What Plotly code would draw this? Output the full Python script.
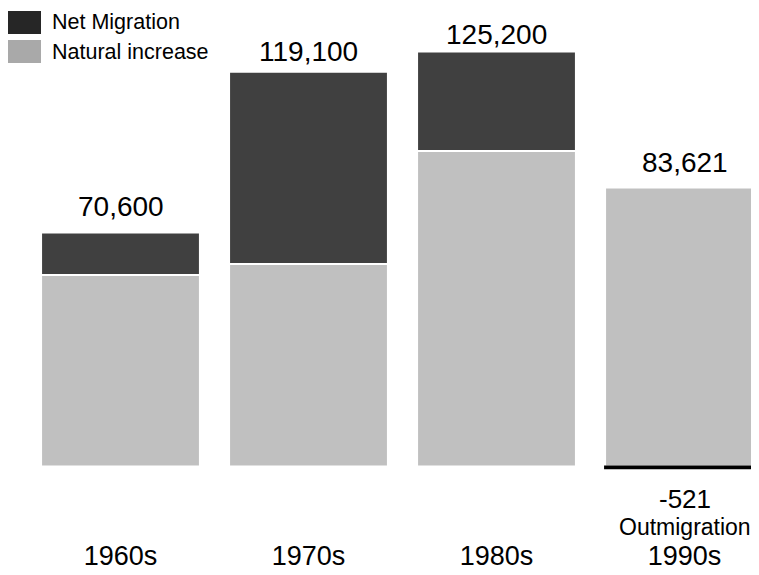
import plotly.graph_objects as go

# ---- data ----
decades = ["1960s", "1970s", "1980s", "1990s"]
natural_increase = [57800, 61100, 95200, 84142]
net_migration = [12800, 58000, 30000, -521]
totals = [a + b for a, b in zip(natural_increase, net_migration)]

# ---- styling ----
FONT = "Arial, Liberation Sans, sans-serif"
OFF = 8  # page body margin offset
W, H = 759, 575 - OFF
PLOT_BOTTOM = 480 - OFF  # px of plot area bottom (figure coords)
DARK = "#404040"
LIGHT = "#c0c0c0"

x_idx = list(range(len(decades)))

fig = go.Figure()
fig.add_trace(go.Bar(
    x=x_idx, y=natural_increase, name="Natural increase",
    marker=dict(color=LIGHT, line=dict(color="white", width=2)),
    showlegend=False, hoverinfo="skip",
))
fig.add_trace(go.Bar(
    x=x_idx, y=net_migration, name="Net Migration",
    marker=dict(
        color=[DARK if v >= 0 else "white" for v in net_migration],
        line=dict(color=["white" if v >= 0 else "black" for v in net_migration], width=2),
    ),
    showlegend=False, hoverinfo="skip",
))

def px(xp):
    return (xp - OFF) / W

def py(yp):
    return (PLOT_BOTTOM - (yp - OFF)) / PLOT_BOTTOM

# custom legend
shapes = [
    dict(type="rect", xref="paper", yref="paper", x0=px(7), x1=px(41), y0=py(34), y1=py(11),
         fillcolor="#262626", line=dict(width=0)),
    dict(type="rect", xref="paper", yref="paper", x0=px(7), x1=px(41), y0=py(63), y1=py(40),
         fillcolor="#a9a9a9", line=dict(width=0)),
]
annotations = [
    dict(text="Net Migration", xref="paper", yref="paper", x=px(50), y=py(22.5),
         xanchor="left", yanchor="middle", showarrow=False, font=dict(size=21.5, color="black", family=FONT)),
    dict(text="Natural increase", xref="paper", yref="paper", x=px(50), y=py(51.5),
         xanchor="left", yanchor="middle", showarrow=False, font=dict(size=21.5, color="black", family=FONT)),
]

label_shift = [26, 20, 17, 25]
for i in x_idx:
    top = max(natural_increase[i], totals[i])
    annotations.append(dict(
        text=f"{totals[i]:,}", x=i, y=top, xref="x", yref="y",
        xanchor="center", yanchor="middle", yshift=label_shift[i], showarrow=False,
        font=dict(size=28, color="black", family=FONT)))

neg_i = [i for i in x_idx if net_migration[i] < 0][0]
annotations.append(dict(
    text=f"{net_migration[neg_i]:,}", x=neg_i, y=0, xref="x", yref="y",
    xanchor="center", yanchor="middle", yshift=-32, showarrow=False,
    font=dict(size=26, color="black", family=FONT)))
annotations.append(dict(
    text="Outmigration", x=neg_i, y=0, xref="x", yref="y",
    xanchor="center", yanchor="middle", yshift=-60, showarrow=False,
    font=dict(size=23, color="black", family=FONT)))

# axis mapping (figure pixel coordinates)
baseline_px = 466.5 - OFF
px_per_unit = 3.315 / 1000
y_top = baseline_px / px_per_unit
y_bot = -(PLOT_BOTTOM - baseline_px) / px_per_unit
cat_px = 188.0
x0_center = 120.5 - OFF

fig.update_layout(
    width=W, height=H,
    margin=dict(l=0, r=0, t=0, b=H - PLOT_BOTTOM, pad=0),
    paper_bgcolor="white", plot_bgcolor="white",
    barmode="relative", bargap=0.155,
    shapes=shapes, annotations=annotations,
    font=dict(family=FONT, color="black"),
    xaxis=dict(
        range=[-x0_center / cat_px, (W - x0_center) / cat_px],
        tickmode="array", tickvals=x_idx, ticktext=decades,
        showgrid=False, zeroline=False, showline=False, ticks="",
        tickfont=dict(size=27, color="black", family=FONT),
        ticklabelstandoff=57, fixedrange=True,
    ),
    yaxis=dict(
        range=[y_bot, y_top], visible=False, showgrid=False, zeroline=False, fixedrange=True,
    ),
)

fig.write_html("out.html", config={"displayModeBar": False})
